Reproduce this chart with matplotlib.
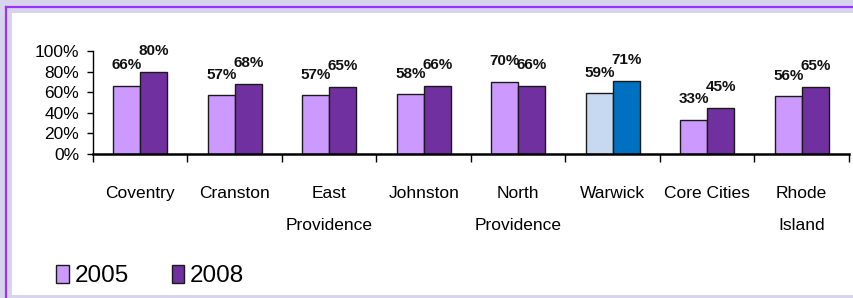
import numpy as np
import matplotlib
matplotlib.use("Agg")
import matplotlib.pyplot as plt
from matplotlib.patches import Rectangle, Patch
from matplotlib.lines import Line2D

# data
places = ["Coventry", "Cranston", "East\nProvidence", "Johnston", "North\nProvidence",
          "Warwick", "Core Cities", "Rhode\nIsland"]
rate_2005 = [66, 57, 57, 58, 70, 59, 33, 56]
rate_2008 = [80, 68, 65, 66, 66, 71, 45, 65]
yticks = [0, 20, 40, 60, 80, 100]
years = ["2005", "2008"]

# colours (Warwick is highlighted in blue)
c05, c08 = "#CC99FF", "#7030A0"
hl05, hl08 = "#C6D9F1", "#0070C0"
highlight = "Warwick"

plt.rcParams["font.family"] = ["Liberation Sans", "DejaVu Sans"]

W, H = 854, 298
fig = plt.figure(figsize=(W / 100, H / 100), dpi=100, facecolor="#D8D4EC")

def px(x, y):
    return x / W, 1 - y / H

# white panel + purple frame lines
fig.patches.append(Rectangle(px(12, 295), (W - 12) / W, (295 - 13) / H,
                             transform=fig.transFigure, facecolor="white",
                             edgecolor="none", zorder=-10))
fig.lines.append(Line2D([px(6, 7)[0], 1.0], [px(6, 7)[1]] * 2, transform=fig.transFigure,
                        color="#9933FF", lw=1.6, zorder=-5))
fig.lines.append(Line2D([px(6, 7)[0]] * 2, [px(6, 7)[1], 0.0], transform=fig.transFigure,
                        color="#9933FF", lw=1.6, zorder=-5))

ax = fig.add_axes([93 / W, 1 - 154 / H, (849 - 93) / W, 103 / H])
ax.set_facecolor("none")

x = np.arange(len(places))
w = 0.285
cols05 = [hl05 if p == highlight else c05 for p in places]
cols08 = [hl08 if p == highlight else c08 for p in places]
b1 = ax.bar(x - w / 2, rate_2005, w, color=cols05, edgecolor="#1a1a1a", lw=1.0, zorder=2)
b2 = ax.bar(x + w / 2, rate_2008, w, color=cols08, edgecolor="#1a1a1a", lw=1.0, zorder=2)

for bars, vals in ((b1, rate_2005), (b2, rate_2008)):
    for r, v in zip(bars, vals):
        ax.annotate(f"{v}%", (r.get_x() + r.get_width() / 2, v), xytext=(0, 12),
                    textcoords="offset points", ha="center", va="baseline",
                    fontsize=11, fontweight="bold", color="#111111")

ax.set_xlim(-0.5, len(places) - 0.5)
ax.set_ylim(0, 100)
ax.set_yticks(yticks)
ax.set_yticklabels([f"{t}%" for t in yticks], fontsize=12.5)
ax.tick_params(axis="y", length=4, width=1, pad=6)

ax.set_xticks(x)
ax.set_xticklabels(places, fontsize=12.5, linespacing=2.4)
ax.tick_params(axis="x", which="major", length=0, pad=23)
ax.set_xticks(np.arange(len(places) + 1) - 0.5, minor=True)
ax.tick_params(axis="x", which="minor", length=6, width=1, color="black")

for s in ("top", "right"):
    ax.spines[s].set_visible(False)
ax.spines["bottom"].set_linewidth(1.8)
ax.spines["left"].set_linewidth(1.0)

handles = [Patch(facecolor=c05, edgecolor="#1a1a1a", lw=1.0),
           Patch(facecolor=c08, edgecolor="#1a1a1a", lw=1.0)]
fig.legend(handles, years, loc="center left", bbox_to_anchor=px(56, 276),
           ncol=2, frameon=False, fontsize=17.5, handlelength=0.52, handleheight=0.75,
           handletextpad=0.25, columnspacing=1.75, borderpad=0, borderaxespad=0)

fig.savefig("out.png", dpi=100, facecolor=fig.get_facecolor())
